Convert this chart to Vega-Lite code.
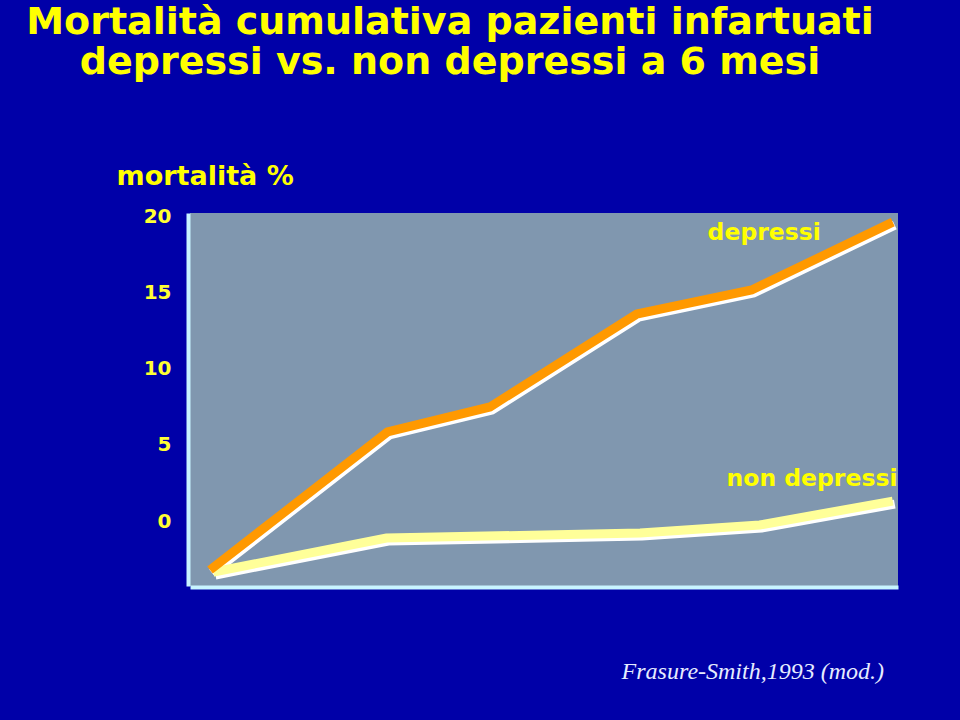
{
  "$schema": "https://vega.github.io/schema/vega-lite/v6.json",
  "autosize": {"type": "none"},
  "width": 708,
  "height": 373,
  "padding": {"left": 190, "top": 213, "right": 62, "bottom": 134},
  "background": "#0000a8",
  "config": {
    "view": {"fill": "#8097af", "stroke": null},
    "font": "DejaVu Sans"
  },
  "title": {
    "text": ["Mortalità cumulativa pazienti infartuati", "depressi vs. non depressi a 6 mesi"],
    "anchor": "middle",
    "frame": "group",
    "dx": -94,
    "dy": -80,
    "offset": 0,
    "font": "DejaVu Sans",
    "fontSize": 38,
    "fontWeight": "bold",
    "color": "#ffff00",
    "lineHeight": 40
  },
  "datasets": {
    "serie": [
      {"serie": "non depressi", "mese": 0.03, "mortalita": -3.34},
      {"serie": "non depressi", "mese": 1.55, "mortalita": -1.11},
      {"serie": "non depressi", "mese": 3.78, "mortalita": -0.79},
      {"serie": "non depressi", "mese": 4.83, "mortalita": -0.26},
      {"serie": "non depressi", "mese": 6.0, "mortalita": 1.31},
      {"serie": "depressi", "mese": 0.0, "mortalita": -3.21},
      {"serie": "depressi", "mese": 1.56, "mortalita": 5.84},
      {"serie": "depressi", "mese": 2.46, "mortalita": 7.48},
      {"serie": "depressi", "mese": 3.75, "mortalita": 13.57},
      {"serie": "depressi", "mese": 4.76, "mortalita": 15.15},
      {"serie": "depressi", "mese": 6.0, "mortalita": 19.6}
    ],
    "etichette": [
      {"testo": "depressi", "mese": 4.87, "mortalita": 18.9},
      {"testo": "non depressi", "mese": 5.29, "mortalita": 2.75}
    ],
    "fonte": [
      {"testo": "Frasure-Smith,1993 (mod.)", "mese": 4.77, "mortalita": -9.9}
    ]
  },
  "encoding": {
    "x": {
      "field": "mese",
      "type": "quantitative",
      "scale": {"domain": [-0.176, 6.046], "nice": false, "zero": false},
      "axis": {
        "labels": false,
        "ticks": false,
        "grid": false,
        "title": null,
        "domainColor": "#c8f4ff",
        "domainWidth": 4,
        "offset": 1
      }
    },
    "y": {
      "field": "mortalita",
      "type": "quantitative",
      "scale": {"domain": [-4.26, 20.2], "nice": false, "zero": false},
      "axis": {
        "values": [0, 5, 10, 15, 20],
        "grid": false,
        "ticks": false,
        "tickSize": 0,
        "labelPadding": 17,
        "labelFont": "DejaVu Sans",
        "labelFontWeight": "bold",
        "labelFontSize": 20,
        "labelColor": "#ffff33",
        "domainColor": "#c8f4ff",
        "domainWidth": 4,
        "offset": 2,
        "title": "mortalità %",
        "titleAngle": 0,
        "titleAlign": "left",
        "titleBaseline": "middle",
        "titleX": -72,
        "titleY": -37,
        "titleFont": "DejaVu Sans",
        "titleFontSize": 27,
        "titleFontWeight": "bold",
        "titleColor": "#ffff00"
      }
    }
  },
  "layer": [
    {
      "data": {"name": "serie"},
      "mark": {"type": "line", "color": "#ffffff", "strokeWidth": 9, "xOffset": 2, "yOffset": 3, "strokeCap": "butt", "strokeJoin": "miter"},
      "encoding": {"detail": {"field": "serie"}}
    },
    {
      "data": {"name": "serie"},
      "mark": {"type": "line", "strokeWidth": 9, "strokeCap": "butt", "strokeJoin": "miter"},
      "encoding": {
        "color": {
          "field": "serie",
          "type": "nominal",
          "scale": {"domain": ["depressi", "non depressi"], "range": ["#ff9900", "#ffff99"]},
          "legend": null
        }
      }
    },
    {
      "data": {"name": "etichette"},
      "mark": {"type": "text", "align": "center", "baseline": "middle", "font": "DejaVu Sans", "fontWeight": "bold", "fontSize": 23.5, "color": "#ffff00"},
      "encoding": {"text": {"field": "testo"}}
    },
    {
      "data": {"name": "fonte"},
      "mark": {"type": "text", "align": "center", "baseline": "middle", "font": "Liberation Serif", "fontStyle": "italic", "fontSize": 24, "color": "#e6ecff"},
      "encoding": {"text": {"field": "testo"}}
    }
  ]
}
